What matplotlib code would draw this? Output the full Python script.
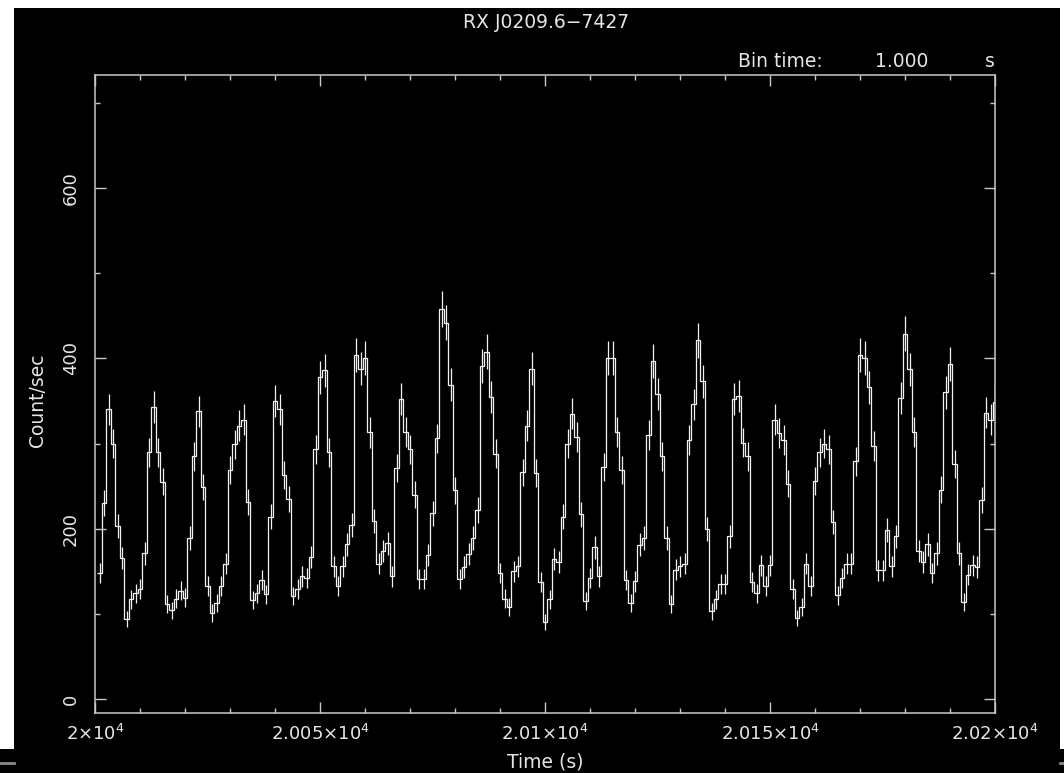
import numpy as np
import matplotlib
matplotlib.use("Agg")
import matplotlib.pyplot as plt
from matplotlib.patches import Rectangle
from matplotlib.lines import Line2D

# ---- data (count rate per 1 s bin) ----
rate = [
    148, 230, 340, 300, 203, 166, 94, 117, 124, 129,
    171, 290, 343, 290, 255, 112, 104, 118, 127, 119,
    189, 285, 338, 249, 133, 101, 113, 133, 159, 269,
    299, 321, 328, 231, 116, 124, 140, 123, 214, 350,
    340, 263, 235, 121, 129, 144, 142, 167, 293, 378,
    386, 290, 156, 133, 156, 182, 204, 404, 388, 400,
    313, 209, 159, 174, 183, 144, 271, 352, 314, 293,
    240, 141, 141, 169, 218, 306, 458, 442, 369, 245,
    141, 155, 170, 189, 222, 391, 408, 355, 288, 148,
    118, 108, 150, 156, 266, 321, 388, 265, 137, 90,
    117, 164, 161, 214, 300, 335, 308, 217, 115, 142,
    178, 144, 272, 400, 400, 314, 269, 140, 113, 138,
    181, 189, 310, 397, 358, 285, 189, 112, 152, 156,
    159, 304, 346, 421, 373, 200, 103, 117, 135, 135,
    191, 352, 356, 301, 285, 137, 124, 157, 133, 157,
    328, 312, 304, 253, 129, 95, 108, 159, 133, 256,
    290, 300, 293, 208, 122, 142, 159, 159, 279, 404,
    400, 366, 297, 151, 151, 198, 156, 191, 354, 429,
    387, 314, 174, 161, 182, 148, 171, 246, 360, 393,
    276, 171, 114, 146, 157, 155, 234, 336, 328, 349,
]
time_start = 20000.5          # left edge of first 1 s bin
bin_time = 1.0
x_ticks = [20000, 20050, 20100, 20150, 20200]
x_tick_labels = [r"$2{\times}10^{4}$", r"$2.005{\times}10^{4}$", r"$2.01{\times}10^{4}$",
                 r"$2.015{\times}10^{4}$", r"$2.02{\times}10^{4}$"]
y_ticks = [0, 200, 400, 600]
y_tick_labels = ["0", "200", "400", "600"]
title = "RX J0209.6\u22127427"

rate = np.asarray(rate, dtype=float)
err = np.sqrt(rate)                      # Poisson error bars
edges = time_start + bin_time * np.arange(len(rate) + 1)
centers = 0.5 * (edges[:-1] + edges[1:])

W, H = 1064, 773
fig = plt.figure(figsize=(W / 100, H / 100), dpi=100, facecolor="white")

# black screen background
fig.add_artist(Rectangle((14 / W, 0), 1046 / W, 765 / H, transform=fig.transFigure,
                         facecolor="black", edgecolor="none", zorder=-10))
fig.add_artist(Rectangle((0, 0), 1, 24 / H, transform=fig.transFigure,
                         facecolor="black", edgecolor="none", zorder=-10))
fig.add_artist(Line2D([0, 14 / W], [1 - 763 / H] * 2, transform=fig.transFigure,
                      color="#8a8a8a", lw=2))
fig.add_artist(Line2D([1060 / W, 1], [1 - 763 / H] * 2, transform=fig.transFigure,
                      color="#8a8a8a", lw=2))

fg = "#e6e6e6"
frame = "#c8c8c8"
ax = fig.add_axes([95 / W, 1 - 713 / H, 900 / W, 638 / H])
ax.set_facecolor("black")

ax.stairs(rate, edges, baseline=None, color="#f2f2f2", lw=0.9)
ax.vlines(centers, rate - err, rate + err, color="#f2f2f2", lw=0.9)

ax.set_xlim(20000, 20200)
ax.set_ylim(-16.4, 732.7)

for s in ax.spines.values():
    s.set_color(frame)
    s.set_linewidth(1.1)

ax.set_xticks(x_ticks, x_tick_labels)
ax.set_xticks(np.arange(20000, 20201, 10), minor=True)
ax.set_yticks(y_ticks, y_tick_labels)
ax.set_yticks(np.arange(0, 701, 100), minor=True)

ax.tick_params(which="both", direction="in", top=True, right=True, color=frame, width=1.0)
ax.tick_params(which="major", length=8)
ax.tick_params(which="minor", length=3.8)
ax.tick_params(axis="x", which="major", labelsize=13, labelcolor=fg, pad=8)
ax.tick_params(axis="y", which="major", labelsize=13, labelcolor=fg, pad=11)
for lab in ax.get_yticklabels():
    lab.set_rotation(90)
    lab.set_va("center")

fig.text(546 / W, 1 - 28 / H, title, ha="center", va="baseline", color=fg, fontsize=13.5)
fig.text(738 / W, 1 - 67 / H, "Bin time:", ha="left", va="baseline", color=fg, fontsize=13.5)
fig.text(875 / W, 1 - 67 / H, "1.000", ha="left", va="baseline", color=fg, fontsize=13.5)
fig.text(995 / W, 1 - 67 / H, "s", ha="right", va="baseline", color=fg, fontsize=13.5)
fig.text(38 / W, 1 - 400 / H, "Count/sec", rotation=90, ha="center", va="center",
         color=fg, fontsize=13.5)
fig.text(545 / W, 1 - 762 / H, "Time (s)", ha="center", va="center", color=fg, fontsize=13.5)

fig.savefig("out.png", dpi=100, facecolor=fig.get_facecolor())
